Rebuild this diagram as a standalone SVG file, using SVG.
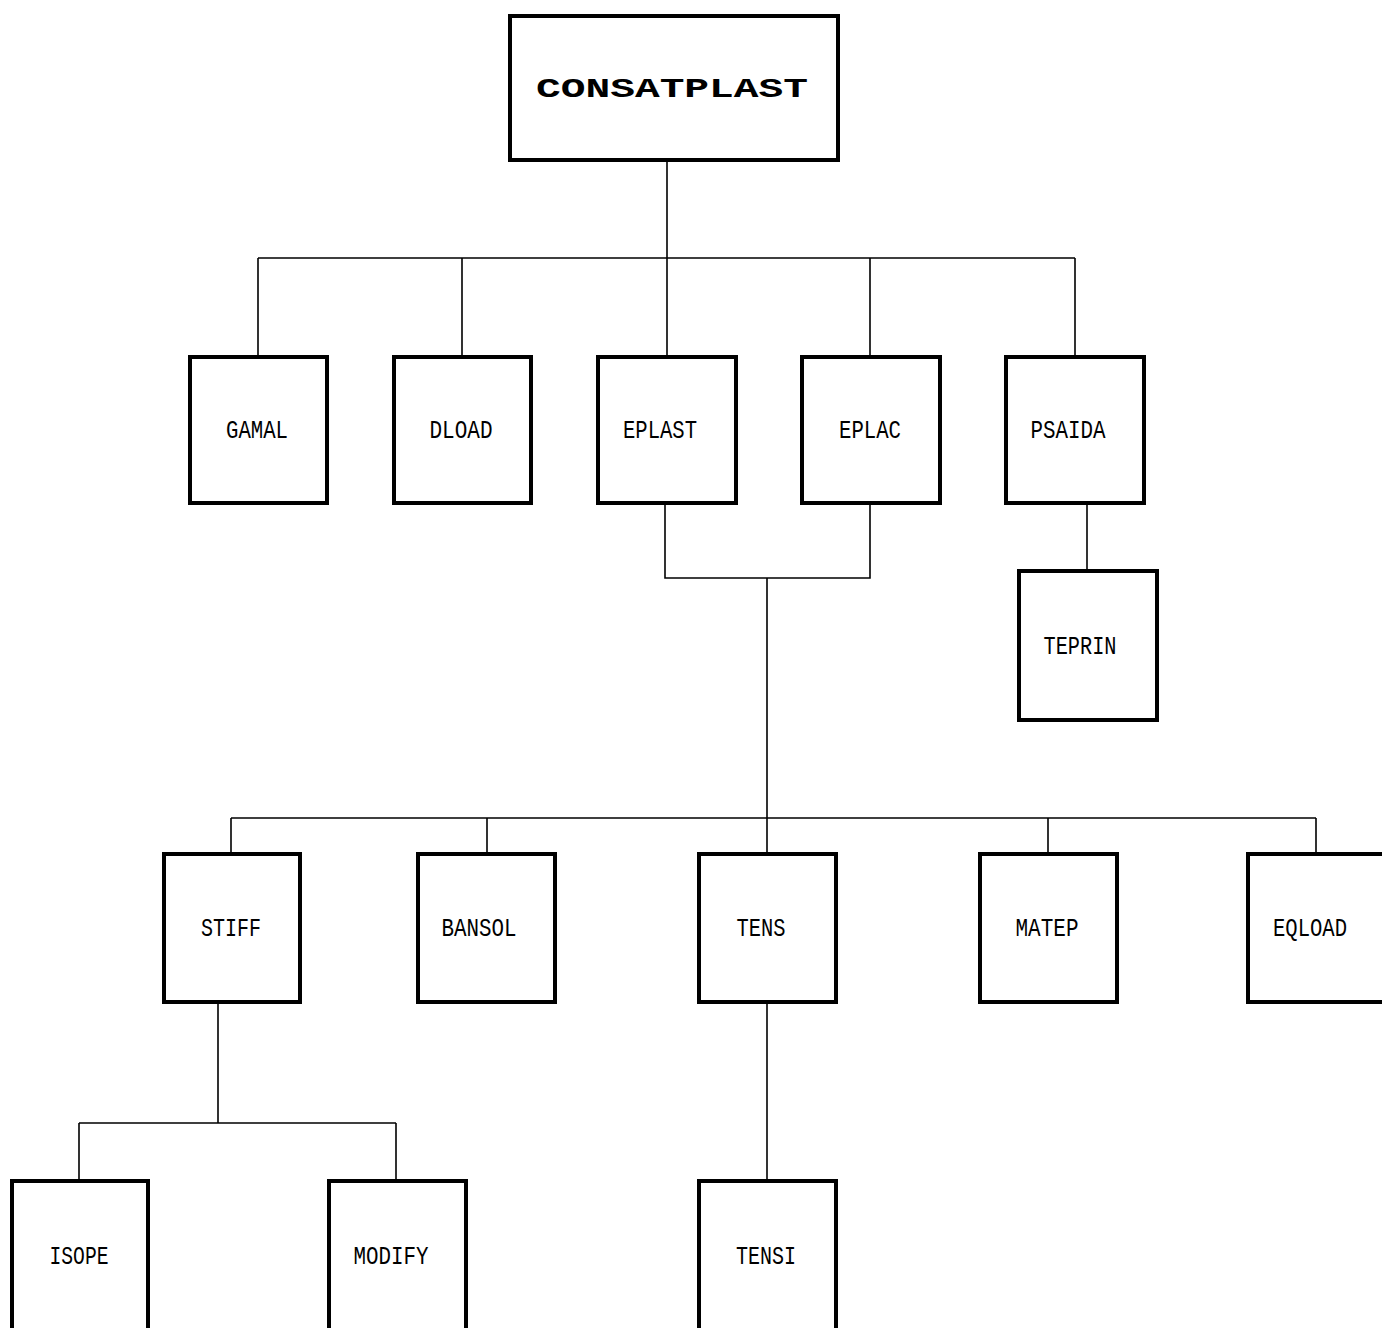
<svg xmlns="http://www.w3.org/2000/svg" width="1382" height="1328" viewBox="0 0 1382 1328">
<style>
.box{fill:#fff;stroke:#000;stroke-width:4}
.lbl{font-family:"Liberation Mono","DejaVu Sans Mono",monospace;font-size:25px;fill:#000;text-anchor:middle}
.title{font-family:"Liberation Mono","DejaVu Sans Mono",monospace;font-size:27px;font-weight:bold;fill:#000;text-anchor:middle}
.con{fill:none;stroke:#000;stroke-width:1.6}
</style>
<rect width="1382" height="1328" fill="#fff"/>
<g id="connectors">
<path class="con" d="M667 160V258M258 258H1075M258 258V356M462 258V356M667 258V356M870 258V356M1075 258V356"/>
<path class="con" d="M665 503V578H870V503M767 578V818"/>
<path class="con" d="M1087 503V571"/>
<path class="con" d="M231 818H1316M231 818V854M487 818V854M767 818V854M1048 818V854M1316 818V854"/>
<path class="con" d="M218 1002V1123M79 1123H396M79 1123V1181M396 1123V1181"/>
<path class="con" d="M767 1002V1181"/>
</g>
<g id="CONSATPLAST"><rect class="box" x="510" y="16" width="328" height="144"/><text class="title" x="672" y="97" textLength="272" lengthAdjust="spacingAndGlyphs">CONSATPLAST</text></g>
<g id="GAMAL"><rect class="box" x="190" y="357" width="137" height="146"/><text class="lbl" x="257" y="438" textLength="62" lengthAdjust="spacingAndGlyphs">GAMAL</text></g>
<g id="DLOAD"><rect class="box" x="394" y="357" width="137" height="146"/><text class="lbl" x="461" y="438" textLength="63" lengthAdjust="spacingAndGlyphs">DLOAD</text></g>
<g id="EPLAST"><rect class="box" x="598" y="357" width="138" height="146"/><text class="lbl" x="660" y="438" textLength="74" lengthAdjust="spacingAndGlyphs">EPLAST</text></g>
<g id="EPLAC"><rect class="box" x="802" y="357" width="138" height="146"/><text class="lbl" x="870" y="438" textLength="62" lengthAdjust="spacingAndGlyphs">EPLAC</text></g>
<g id="PSAIDA"><rect class="box" x="1006" y="357" width="138" height="146"/><text class="lbl" x="1068" y="438" textLength="75" lengthAdjust="spacingAndGlyphs">PSAIDA</text></g>
<g id="TEPRIN"><rect class="box" x="1019" y="571" width="138" height="149"/><text class="lbl" x="1080" y="654" textLength="73" lengthAdjust="spacingAndGlyphs">TEPRIN</text></g>
<g id="STIFF"><rect class="box" x="164" y="854" width="136" height="148"/><text class="lbl" x="231" y="936" textLength="60" lengthAdjust="spacingAndGlyphs">STIFF</text></g>
<g id="BANSOL"><rect class="box" x="418" y="854" width="137" height="148"/><text class="lbl" x="479" y="936" textLength="75" lengthAdjust="spacingAndGlyphs">BANSOL</text></g>
<g id="TENS"><rect class="box" x="699" y="854" width="137" height="148"/><text class="lbl" x="761" y="936" textLength="49" lengthAdjust="spacingAndGlyphs">TENS</text></g>
<g id="MATEP"><rect class="box" x="980" y="854" width="137" height="148"/><text class="lbl" x="1047" y="936" textLength="63" lengthAdjust="spacingAndGlyphs">MATEP</text></g>
<g id="EQLOAD"><rect class="box" x="1248" y="854" width="138" height="148"/><text class="lbl" x="1310" y="936" textLength="74" lengthAdjust="spacingAndGlyphs">EQLOAD</text></g>
<g id="ISOPE"><rect class="box" x="12" y="1181" width="136" height="160"/><text class="lbl" x="79" y="1264" textLength="59" lengthAdjust="spacingAndGlyphs">ISOPE</text></g>
<g id="MODIFY"><rect class="box" x="329" y="1181" width="137" height="160"/><text class="lbl" x="391" y="1264" textLength="75" lengthAdjust="spacingAndGlyphs">MODIFY</text></g>
<g id="TENSI"><rect class="box" x="699" y="1181" width="137" height="160"/><text class="lbl" x="766" y="1264" textLength="60" lengthAdjust="spacingAndGlyphs">TENSI</text></g>
</svg>
